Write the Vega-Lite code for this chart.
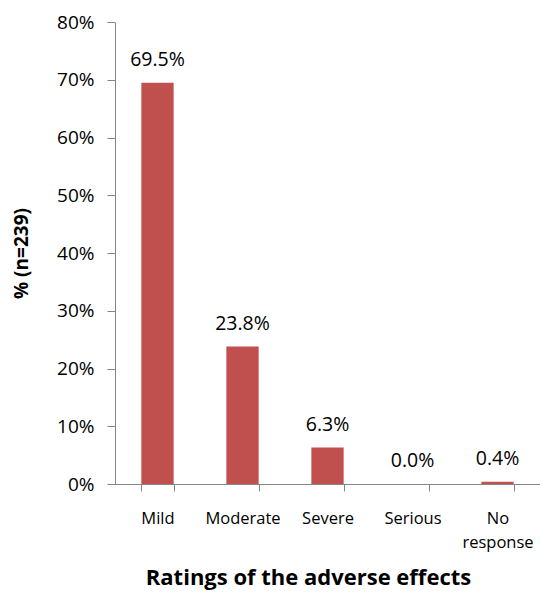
{
  "$schema": "https://vega.github.io/schema/vega-lite/v6.json",
  "width": 425,
  "height": 462,
  "autosize": {"type": "none"},
  "padding": {"left": 115, "top": 22, "right": 0, "bottom": 111},
  "background": "white",
  "config": {
    "view": {"stroke": null},
    "font": "Open Sans"
  },
  "data": {
    "values": [
      {"rating": "Mild", "pct": 0.695},
      {"rating": "Moderate", "pct": 0.238},
      {"rating": "Severe", "pct": 0.063},
      {"rating": "Serious", "pct": 0.0},
      {"rating": "No response", "pct": 0.004}
    ]
  },
  "encoding": {
    "x": {
      "field": "rating",
      "type": "nominal",
      "sort": null,
      "scale": {"paddingInner": 0.62, "paddingOuter": 0.31},
      "axis": {
        "title": "Ratings of the adverse effects",
        "titleFontSize": 22,
        "titleFontWeight": "bold",
        "titleColor": "black",
        "titlePadding": 17,
        "titleX": 193,
        "titleAlign": "center",
        "labelAngle": 0,
        "labelFontSize": 16.5,
        "labelColor": "black",
        "labelPadding": 19,
        "labelLineHeight": 24,
        "labelExpr": "datum.value == 'No response' ? ['No', 'response'] : datum.value",
        "tickBand": "extent",
        "tickSize": 7,
        "tickColor": "#868686",
        "domainColor": "#868686",
        "grid": false
      }
    },
    "y": {
      "field": "pct",
      "type": "quantitative",
      "scale": {"domain": [0, 0.8], "nice": false},
      "axis": {
        "title": "% (n=239)",
        "titleFontSize": 19,
        "titleFontWeight": "bold",
        "titleColor": "black",
        "titlePadding": 25,
        "format": ".0%",
        "values": [0, 0.1, 0.2, 0.3, 0.4, 0.5, 0.6, 0.7, 0.8],
        "labelFontSize": 19,
        "labelColor": "black",
        "labelPadding": 13,
        "tickSize": 8,
        "tickColor": "#868686",
        "domainColor": "#868686",
        "grid": false
      }
    }
  },
  "layer": [
    {
      "mark": {"type": "bar", "color": "#C0504D"}
    },
    {
      "mark": {"type": "text", "dy": -23, "fontSize": 19.5, "color": "black"},
      "encoding": {
        "text": {"field": "pct", "type": "quantitative", "format": ".1%"}
      }
    }
  ]
}
